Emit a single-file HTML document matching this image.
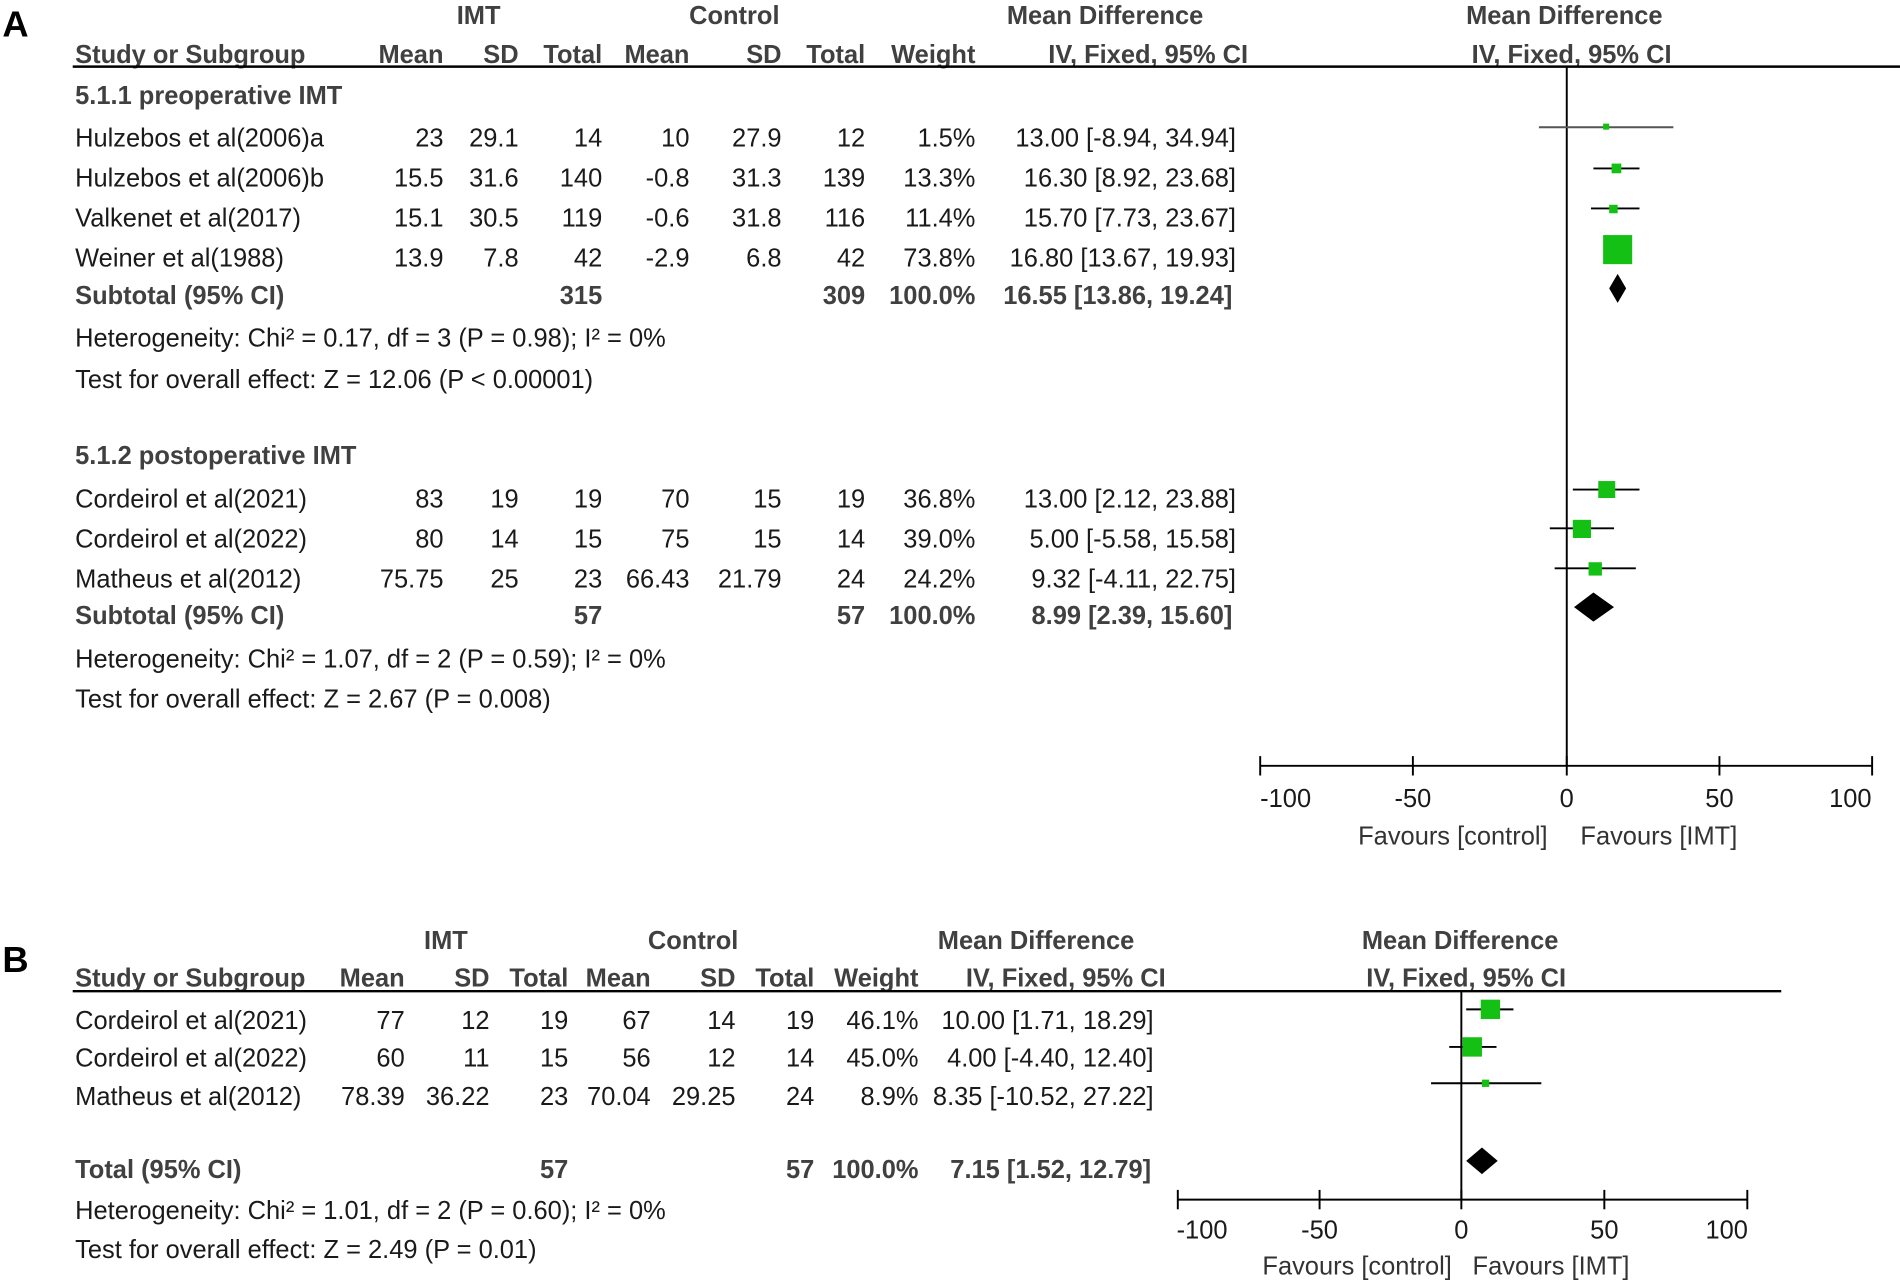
<!DOCTYPE html>
<html><head><meta charset="utf-8"><style>html,body{margin:0;padding:0;background:#fff}svg{display:block}</style></head>
<body>
<svg xmlns="http://www.w3.org/2000/svg" width="1900" height="1282" viewBox="0 0 1568 1058" font-family="Liberation Sans, Arial, sans-serif" font-size="21">
<rect width="1568" height="1058" fill="#fff"/>
<g fill="#000" font-weight="bold" font-size="30"><text x="2" y="30">A</text><text x="2" y="802">B</text></g>
<!-- Panel A headers -->
<g fill="#404040" font-weight="bold">
<text x="395" y="20" text-anchor="middle">IMT</text>
<text x="606" y="20" text-anchor="middle">Control</text>
<text x="912" y="20" text-anchor="middle">Mean Difference</text>
<text x="1291" y="20" text-anchor="middle">Mean Difference</text>
<text x="62" y="52">Study or Subgroup</text>
<text x="366" y="52" text-anchor="end">Mean</text>
<text x="428" y="52" text-anchor="end">SD</text>
<text x="497" y="52" text-anchor="end">Total</text>
<text x="569" y="52" text-anchor="end">Mean</text>
<text x="645" y="52" text-anchor="end">SD</text>
<text x="714" y="52" text-anchor="end">Total</text>
<text x="805" y="52" text-anchor="end">Weight</text>
<text x="1030" y="52" text-anchor="end">IV, Fixed, 95% CI</text>
<text x="1297" y="52" text-anchor="middle">IV, Fixed, 95% CI</text>
<text x="62" y="86">5.1.1 preoperative IMT</text>
<text x="62" y="251">Subtotal (95% CI)</text>
<text x="497" y="251" text-anchor="end">315</text>
<text x="714" y="251" text-anchor="end">309</text>
<text x="805" y="251" text-anchor="end">100.0%</text>
<text x="1017" y="251" text-anchor="end">16.55 [13.86, 19.24]</text>
<text x="62" y="383">5.1.2 postoperative IMT</text>
<text x="62" y="515">Subtotal (95% CI)</text>
<text x="497" y="515" text-anchor="end">57</text>
<text x="714" y="515" text-anchor="end">57</text>
<text x="805" y="515" text-anchor="end">100.0%</text>
<text x="1017" y="515" text-anchor="end">8.99 [2.39, 15.60]</text>
</g>
<line x1="60" y1="55" x2="1568" y2="55" stroke="#000" stroke-width="2"/>
<g fill="#1a1a1a">
<g id="rA">
<text x="62" y="121">Hulzebos et al(2006)a</text><text x="366" y="121" text-anchor="end">23</text><text x="428" y="121" text-anchor="end">29.1</text><text x="497" y="121" text-anchor="end">14</text><text x="569" y="121" text-anchor="end">10</text><text x="645" y="121" text-anchor="end">27.9</text><text x="714" y="121" text-anchor="end">12</text><text x="805" y="121" text-anchor="end">1.5%</text><text x="1020" y="121" text-anchor="end">13.00 [-8.94, 34.94]</text>
<text x="62" y="154">Hulzebos et al(2006)b</text><text x="366" y="154" text-anchor="end">15.5</text><text x="428" y="154" text-anchor="end">31.6</text><text x="497" y="154" text-anchor="end">140</text><text x="569" y="154" text-anchor="end">-0.8</text><text x="645" y="154" text-anchor="end">31.3</text><text x="714" y="154" text-anchor="end">139</text><text x="805" y="154" text-anchor="end">13.3%</text><text x="1020" y="154" text-anchor="end">16.30 [8.92, 23.68]</text>
<text x="62" y="187">Valkenet et al(2017)</text><text x="366" y="187" text-anchor="end">15.1</text><text x="428" y="187" text-anchor="end">30.5</text><text x="497" y="187" text-anchor="end">119</text><text x="569" y="187" text-anchor="end">-0.6</text><text x="645" y="187" text-anchor="end">31.8</text><text x="714" y="187" text-anchor="end">116</text><text x="805" y="187" text-anchor="end">11.4%</text><text x="1020" y="187" text-anchor="end">15.70 [7.73, 23.67]</text>
<text x="62" y="220">Weiner et al(1988)</text><text x="366" y="220" text-anchor="end">13.9</text><text x="428" y="220" text-anchor="end">7.8</text><text x="497" y="220" text-anchor="end">42</text><text x="569" y="220" text-anchor="end">-2.9</text><text x="645" y="220" text-anchor="end">6.8</text><text x="714" y="220" text-anchor="end">42</text><text x="805" y="220" text-anchor="end">73.8%</text><text x="1020" y="220" text-anchor="end">16.80 [13.67, 19.93]</text>
<text x="62" y="286">Heterogeneity: Chi² = 0.17, df = 3 (P = 0.98); I² = 0%</text>
<text x="62" y="320">Test for overall effect: Z = 12.06 (P &lt; 0.00001)</text>
<text x="62" y="419">Cordeirol et al(2021)</text><text x="366" y="419" text-anchor="end">83</text><text x="428" y="419" text-anchor="end">19</text><text x="497" y="419" text-anchor="end">19</text><text x="569" y="419" text-anchor="end">70</text><text x="645" y="419" text-anchor="end">15</text><text x="714" y="419" text-anchor="end">19</text><text x="805" y="419" text-anchor="end">36.8%</text><text x="1020" y="419" text-anchor="end">13.00 [2.12, 23.88]</text>
<text x="62" y="452">Cordeirol et al(2022)</text><text x="366" y="452" text-anchor="end">80</text><text x="428" y="452" text-anchor="end">14</text><text x="497" y="452" text-anchor="end">15</text><text x="569" y="452" text-anchor="end">75</text><text x="645" y="452" text-anchor="end">15</text><text x="714" y="452" text-anchor="end">14</text><text x="805" y="452" text-anchor="end">39.0%</text><text x="1020" y="452" text-anchor="end">5.00 [-5.58, 15.58]</text>
<text x="62" y="485">Matheus et al(2012)</text><text x="366" y="485" text-anchor="end">75.75</text><text x="428" y="485" text-anchor="end">25</text><text x="497" y="485" text-anchor="end">23</text><text x="569" y="485" text-anchor="end">66.43</text><text x="645" y="485" text-anchor="end">21.79</text><text x="714" y="485" text-anchor="end">24</text><text x="805" y="485" text-anchor="end">24.2%</text><text x="1020" y="485" text-anchor="end">9.32 [-4.11, 22.75]</text>
<text x="62" y="551">Heterogeneity: Chi² = 1.07, df = 2 (P = 0.59); I² = 0%</text>
<text x="62" y="584">Test for overall effect: Z = 2.67 (P = 0.008)</text>
</g>
<!-- axis A -->
<text x="1061" y="666" text-anchor="middle">-100</text><text x="1166" y="666" text-anchor="middle">-50</text><text x="1293" y="666" text-anchor="middle">0</text><text x="1419" y="666" text-anchor="middle">50</text><text x="1527" y="666" text-anchor="middle">100</text>
<text x="1199" y="697" text-anchor="middle" fill="#333">Favours [control]</text><text x="1369" y="697" text-anchor="middle" fill="#333">Favours [IMT]</text>
</g>
<g stroke="#000" stroke-width="1.6">
<line x1="1293" y1="55" x2="1293" y2="632"/>
<line x1="1040" y1="632" x2="1545" y2="632"/>
<line x1="1040" y1="624" x2="1040" y2="640"/><line x1="1166" y1="624" x2="1166" y2="640"/><line x1="1293" y1="624" x2="1293" y2="640"/><line x1="1419" y1="624" x2="1419" y2="640"/><line x1="1545" y1="624" x2="1545" y2="640"/>
<line x1="1270" y1="105" x2="1381" y2="105" stroke="#555"/>
<line x1="1315" y1="139" x2="1353" y2="139"/>
<line x1="1313" y1="172" x2="1353" y2="172"/>
<line x1="1298" y1="404" x2="1353" y2="404"/>
<line x1="1279" y1="436" x2="1332" y2="436"/>
<line x1="1283" y1="469" x2="1350" y2="469"/>
</g>
<g fill="#13c013">
<rect x="1323" y="102" width="5" height="5"/>
<rect x="1330" y="135" width="8" height="8"/>
<rect x="1328" y="169" width="7" height="7"/>
<rect x="1323" y="194" width="24" height="24"/>
<rect x="1319" y="397" width="14" height="14"/>
<rect x="1298" y="429" width="15" height="15"/>
<rect x="1311" y="464" width="11" height="11"/>
</g>
<polygon points="1328,238 1335,226 1342,238 1335,250" fill="#000"/>
<polygon points="1299,501 1315,489 1332,501 1315,513" fill="#000"/>

<!-- Panel B -->
<g fill="#404040" font-weight="bold">
<text x="368" y="783" text-anchor="middle">IMT</text>
<text x="572" y="783" text-anchor="middle">Control</text>
<text x="855" y="783" text-anchor="middle">Mean Difference</text>
<text x="1205" y="783" text-anchor="middle">Mean Difference</text>
<text x="62" y="814">Study or Subgroup</text>
<text x="334" y="814" text-anchor="end">Mean</text>
<text x="404" y="814" text-anchor="end">SD</text>
<text x="469" y="814" text-anchor="end">Total</text>
<text x="537" y="814" text-anchor="end">Mean</text>
<text x="607" y="814" text-anchor="end">SD</text>
<text x="672" y="814" text-anchor="end">Total</text>
<text x="758" y="814" text-anchor="end">Weight</text>
<text x="962" y="814" text-anchor="end">IV, Fixed, 95% CI</text>
<text x="1210" y="814" text-anchor="middle">IV, Fixed, 95% CI</text>
<text x="62" y="972">Total (95% CI)</text>
<text x="469" y="972" text-anchor="end">57</text>
<text x="672" y="972" text-anchor="end">57</text>
<text x="758" y="972" text-anchor="end">100.0%</text>
<text x="950" y="972" text-anchor="end">7.15 [1.52, 12.79]</text>
</g>
<line x1="60" y1="818" x2="1470" y2="818" stroke="#000" stroke-width="2"/>
<g fill="#1a1a1a">
<text x="62" y="849">Cordeirol et al(2021)</text><text x="334" y="849" text-anchor="end">77</text><text x="404" y="849" text-anchor="end">12</text><text x="469" y="849" text-anchor="end">19</text><text x="537" y="849" text-anchor="end">67</text><text x="607" y="849" text-anchor="end">14</text><text x="672" y="849" text-anchor="end">19</text><text x="758" y="849" text-anchor="end">46.1%</text><text x="952" y="849" text-anchor="end">10.00 [1.71, 18.29]</text>
<text x="62" y="880">Cordeirol et al(2022)</text><text x="334" y="880" text-anchor="end">60</text><text x="404" y="880" text-anchor="end">11</text><text x="469" y="880" text-anchor="end">15</text><text x="537" y="880" text-anchor="end">56</text><text x="607" y="880" text-anchor="end">12</text><text x="672" y="880" text-anchor="end">14</text><text x="758" y="880" text-anchor="end">45.0%</text><text x="952" y="880" text-anchor="end">4.00 [-4.40, 12.40]</text>
<text x="62" y="912">Matheus et al(2012)</text><text x="334" y="912" text-anchor="end">78.39</text><text x="404" y="912" text-anchor="end">36.22</text><text x="469" y="912" text-anchor="end">23</text><text x="537" y="912" text-anchor="end">70.04</text><text x="607" y="912" text-anchor="end">29.25</text><text x="672" y="912" text-anchor="end">24</text><text x="758" y="912" text-anchor="end">8.9%</text><text x="952" y="912" text-anchor="end">8.35 [-10.52, 27.22]</text>
<text x="62" y="1006">Heterogeneity: Chi² = 1.01, df = 2 (P = 0.60); I² = 0%</text>
<text x="62" y="1038">Test for overall effect: Z = 2.49 (P = 0.01)</text>
<text x="992" y="1022" text-anchor="middle">-100</text><text x="1089" y="1022" text-anchor="middle">-50</text><text x="1206" y="1022" text-anchor="middle">0</text><text x="1324" y="1022" text-anchor="middle">50</text><text x="1425" y="1022" text-anchor="middle">100</text>
<text x="1120" y="1052" text-anchor="middle" fill="#333">Favours [control]</text><text x="1280" y="1052" text-anchor="middle" fill="#333">Favours [IMT]</text>
</g>
<g stroke="#000" stroke-width="1.6">
<line x1="1206" y1="818" x2="1206" y2="990"/>
<line x1="972" y1="990" x2="1442" y2="990"/>
<line x1="972" y1="982" x2="972" y2="998"/><line x1="1089" y1="982" x2="1089" y2="998"/><line x1="1206" y1="982" x2="1206" y2="998"/><line x1="1324" y1="982" x2="1324" y2="998"/><line x1="1442" y1="982" x2="1442" y2="998"/>
<line x1="1210" y1="833" x2="1249" y2="833"/>
<line x1="1196" y1="864" x2="1235" y2="864"/>
<line x1="1181" y1="894" x2="1272" y2="894"/>
</g>
<g fill="#13c013">
<rect x="1222" y="825" width="16" height="16"/>
<rect x="1207" y="856" width="16" height="16"/>
<rect x="1223" y="891" width="6" height="6"/>
</g>
<polygon points="1210,958 1223,947 1236,958 1223,969" fill="#000"/>
</svg>
</body></html>
